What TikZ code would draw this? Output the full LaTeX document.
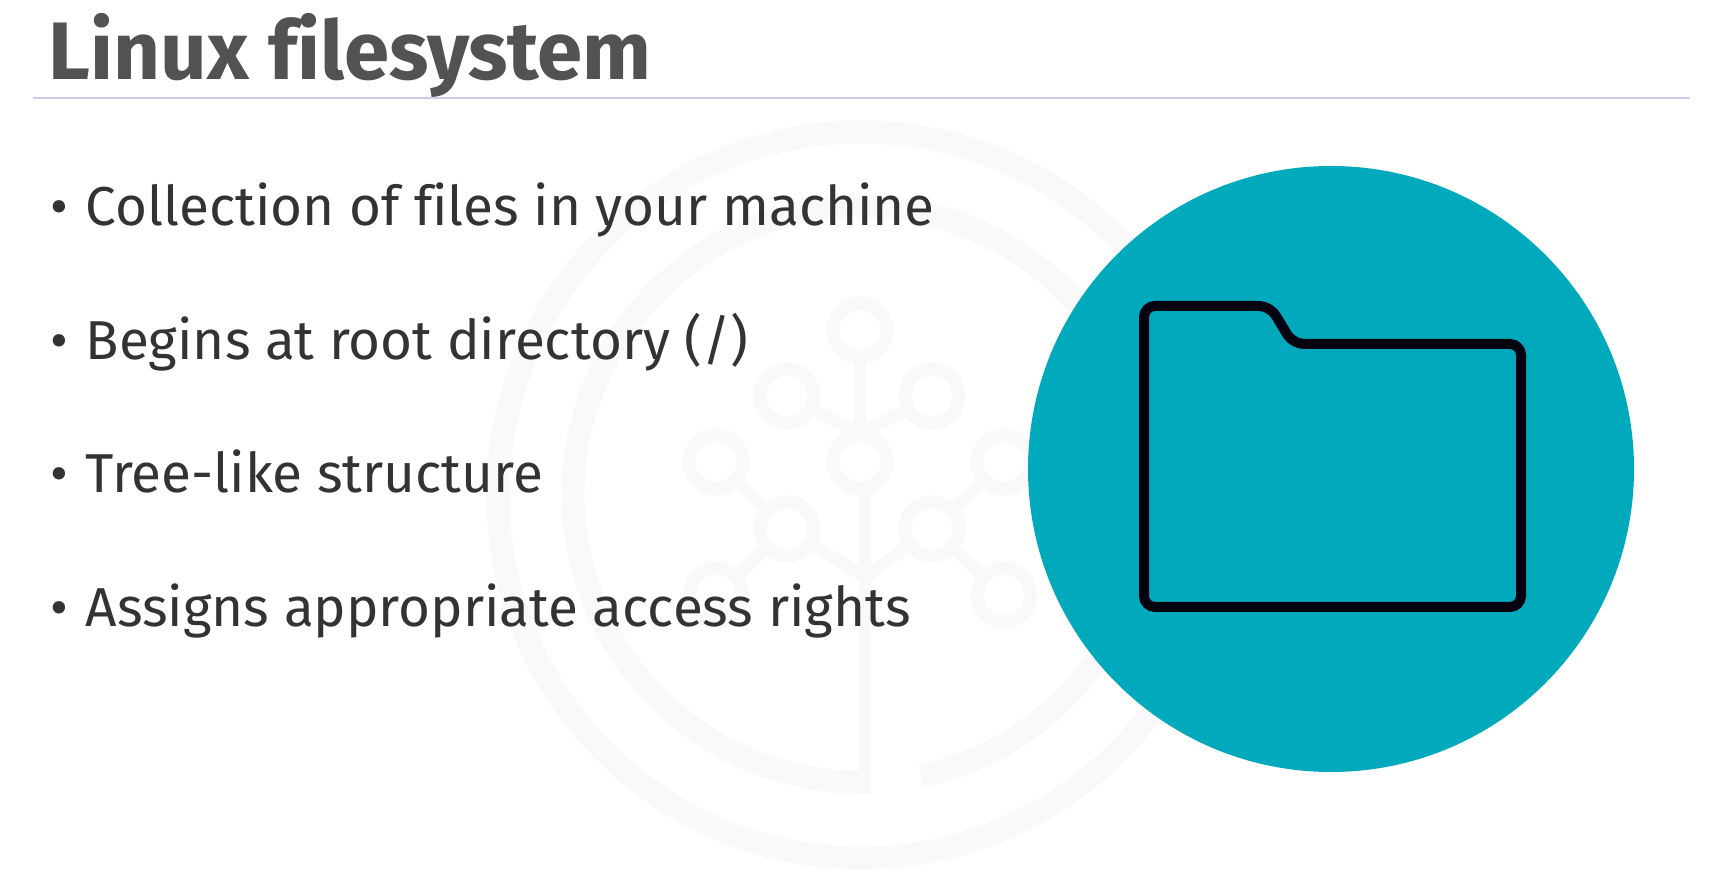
\documentclass[tikz,border=0pt]{standalone}
\usepackage{fontspec}
\setmainfont[Ligatures=CommonOff]{Fira Sans}
\usepackage{xcolor}
\usetikzlibrary{positioning,calc}
\definecolor{ghost}{HTML}{F9F9FB}
\definecolor{teal}{HTML}{00AABC}
\definecolor{rulecol}{HTML}{CCCCF0}
\definecolor{titlecol}{HTML}{525252}
\definecolor{bodycol}{HTML}{333333}
\definecolor{inkcol}{HTML}{03030F}

\begin{document}
\begin{tikzpicture}[
    node distance=0.72cm and 0.4cm,
    leaf/.style={circle, draw=ghost, line width=1.3mm, minimum size=0.54cm, inner sep=0},
    twig/.style={draw=ghost, line width=1.2mm},
    ring/.style={draw=ghost, line width=2.3mm},
    item/.style={inner sep=0, anchor=west, text=bodycol, text height=0.46cm, text depth=0.14cm,
                 font=\fontsize{15.6pt}{18pt}\selectfont},
]
\useasboundingbox (0,0) rectangle (17.26,8.72);
\fill[white] (0,0) rectangle (17.26,8.72);

% Watermark: rings
\node[circle, ring, minimum size=7.26cm] (outer) at (8.61,3.77) {};
\coordinate (base) at (8.65,0.78);
\draw[ring] (9.21,0.96) arc[start angle=-78, end angle=271, radius=2.88cm];

% Watermark: tree
\node[leaf] (top) at (8.60,5.42) {};
\node[leaf] (upl) at (7.87,4.76) {};
\node[leaf] (upr) at (9.32,4.76) {};
\node[leaf] (mid) at (8.60,4.10) {};
\node[leaf] (midl) at (7.16,4.10) {};
\node[leaf] (midr) at (10.04,4.10) {};
\node[leaf] (lowl) at (7.87,3.43) {};
\node[leaf] (lowr) at (9.32,3.43) {};
\node[leaf] (botl) at (7.16,2.77) {};
\node[leaf] (botr) at (10.04,2.77) {};
\coordinate (fork) at (8.65,2.95);
\coordinate (forkup) at (8.60,4.38);

\draw[twig] (top) -- (mid);
\draw[twig] (mid.south -| base) -- (base);
\draw[twig] (upl) -- (forkup);
\draw[twig] (upr) -- (forkup);
\foreach \a/\b in {midl/lowl, botl/lowl, midr/lowr, botr/lowr, lowl/fork, lowr/fork}
    \draw[twig] (\a) -- (\b);

% Title
\node[inner sep=0, anchor=base west, text=titlecol, font=\fontsize{23.2pt}{26pt}\selectfont\bfseries] (title) at (0.48,7.92) {Linux filesystem};
\coordinate (rulel) at (0.33,7.74);
\coordinate (ruler) at (16.90,7.74);
\draw[rulecol, line width=0.25mm] (rulel) -- (ruler);

% Bullets
\node[item] (collect) at (0.85,6.62) {\llap{\textbullet\hspace{0.17cm}}Collection of files in your machine};
\node[item, below=of collect.south west, anchor=north west] (begins) {\llap{\textbullet\hspace{0.17cm}}Begins at root directory (/)};
\node[item, below=of begins.south west, anchor=north west] (tree) {\llap{\textbullet\hspace{0.17cm}}Tree-like structure};
\node[item, below=of tree.south west, anchor=north west] (assigns) {\llap{\textbullet\hspace{0.17cm}}Assigns appropriate access rights};

% Folder icon
\node[circle, fill=teal, minimum size=6.06cm, inner sep=0] (disc) at (13.31,4.03) {};
\draw[inkcol, line width=1mm, rounded corners=1.1mm]
    (11.44,2.65) -- (11.44,5.66) -- (12.70,5.66) -- (12.93,5.28) -- (15.21,5.28) -- (15.21,2.65) -- cycle;
\end{tikzpicture}
\end{document}
